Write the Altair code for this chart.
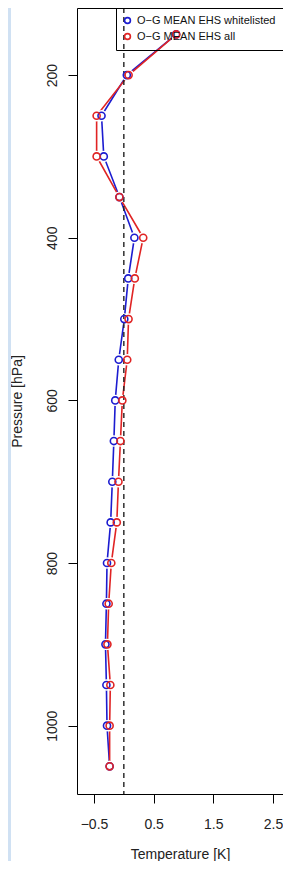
import altair as alt
import pandas as pd

pressure = [150, 200, 250, 300, 350, 400, 450, 500, 550, 600, 650, 700, 750, 800, 850, 900, 950, 1000, 1050]
whitelisted = [0.877, 0.05, -0.374, -0.336, -0.074, 0.177, 0.074, 0.008, -0.085, -0.144, -0.167, -0.193,
               -0.221, -0.282, -0.292, -0.308, -0.292, -0.282, -0.238]
all_obs = [0.877, 0.08, -0.456, -0.456, -0.074, 0.325, 0.184, 0.079, 0.057, -0.025, -0.057, -0.09,
           -0.118, -0.21, -0.254, -0.275, -0.226, -0.238, -0.238]
series_names = ["O−G MEAN EHS whitelisted", "O−G MEAN EHS all"]
series_colors = ["#1c1cd0", "#e02424"]
x_ticks = [-0.5, 0, 0.5, 1, 1.5, 2, 2.5]
x_labelled = [-0.5, 0.5, 1.5, 2.5]
y_ticks = [200, 400, 600, 800, 1000]

rows = []
for name, vals in zip(series_names, [whitelisted, all_obs]):
    for p, t in zip(pressure, vals):
        rows.append({"series": name, "pressure": p, "temp": t})
df = pd.DataFrame(rows)

FONT = "Liberation Sans"
W, H = 206, 786
PAD_L, PAD_B = 69, 67

xscale = alt.Scale(domain=[-0.785, 2.668], nice=False, zero=False)
yscale = alt.Scale(domain=[117.5, 1084], reverse=True, nice=False, zero=False)
cscale = alt.Scale(domain=series_names, range=series_colors)

legend = alt.Legend(
    title=None, orient="top-right", offset=0, strokeColor="black", fillColor="transparent",
    padding=7, labelFont=FONT, labelFontSize=11, labelColor="#111", labelLimit=400,
    symbolType="circle", symbolSize=34, symbolStrokeWidth=1.6, symbolFillColor="transparent",
    symbolOffset=-1, labelOffset=4, rowPadding=3, cornerRadius=0)

xaxis = alt.Axis(values=x_ticks, format=".1f",
                 labelExpr="indexof(%s, datum.value) >= 0 ? datum.label : ''" % str(x_labelled),
                 title="Temperature [K]", grid=False, domain=False, tickSize=9, tickColor="black",
                 labelPadding=25, labelBaseline="alphabetic", labelFontSize=14, labelFont=FONT,
                 labelColor="#222", titleFont=FONT, titleFontSize=14, titleFontWeight="normal",
                 titleColor="#222", titleY=64, titleBaseline="alphabetic")
yaxis = alt.Axis(values=y_ticks, format="d", title="Pressure [hPa]", grid=False, domain=False,
                 tickSize=9, tickColor="black", labelAngle=270, labelAlign="center",
                 labelBaseline="alphabetic", labelPadding=12, labelFontSize=14, labelFont=FONT,
                 labelColor="#222", titleFont=FONT, titleFontSize=14, titleFontWeight="normal",
                 titleColor="#222", titleAngle=270, titleAlign="center", titleBaseline="alphabetic",
                 titleX=-56, titleY=H / 2)

base = alt.Chart(df)

strip = alt.Chart(pd.DataFrame({"a": [0]})).mark_rect(color="#d0e1f3").encode(
    x=alt.value(-PAD_L), x2=alt.value(-PAD_L + 3), y=alt.value(0), y2=alt.value(H + PAD_B))

lines = base.mark_line(strokeWidth=1.6).encode(
    x=alt.X("temp:Q", scale=xscale, axis=xaxis),
    y=alt.Y("pressure:Q", scale=yscale, axis=yaxis),
    color=alt.Color("series:N", scale=cscale, legend=legend),
    order=alt.Order("pressure:Q"),
)

gaps = base.mark_circle(color="white", size=130, opacity=1).encode(
    x=alt.X("temp:Q", scale=xscale), y=alt.Y("pressure:Q", scale=yscale))

rule = alt.Chart(pd.DataFrame({"x": [0.0]})).mark_rule(
    color="#222", strokeDash=[5, 4], strokeWidth=1.4).encode(x=alt.X("x:Q", scale=xscale))

points = base.mark_point(shape="circle", filled=False, size=50, strokeWidth=1.6, opacity=1).encode(
    x=alt.X("temp:Q", scale=xscale),
    y=alt.Y("pressure:Q", scale=yscale),
    color=alt.Color("series:N", scale=cscale, legend=legend),
)

chart = alt.layer(strip, lines, gaps, rule, points).properties(
    width=W, height=H,
    autosize=alt.AutoSizeParams(type="none"),
    padding={"left": PAD_L, "top": 0, "right": 0, "bottom": PAD_B},
    background="white",
).configure_view(stroke="black", strokeWidth=1)

chart.save("out.html", embed_options={"renderer": "svg", "actions": False})
